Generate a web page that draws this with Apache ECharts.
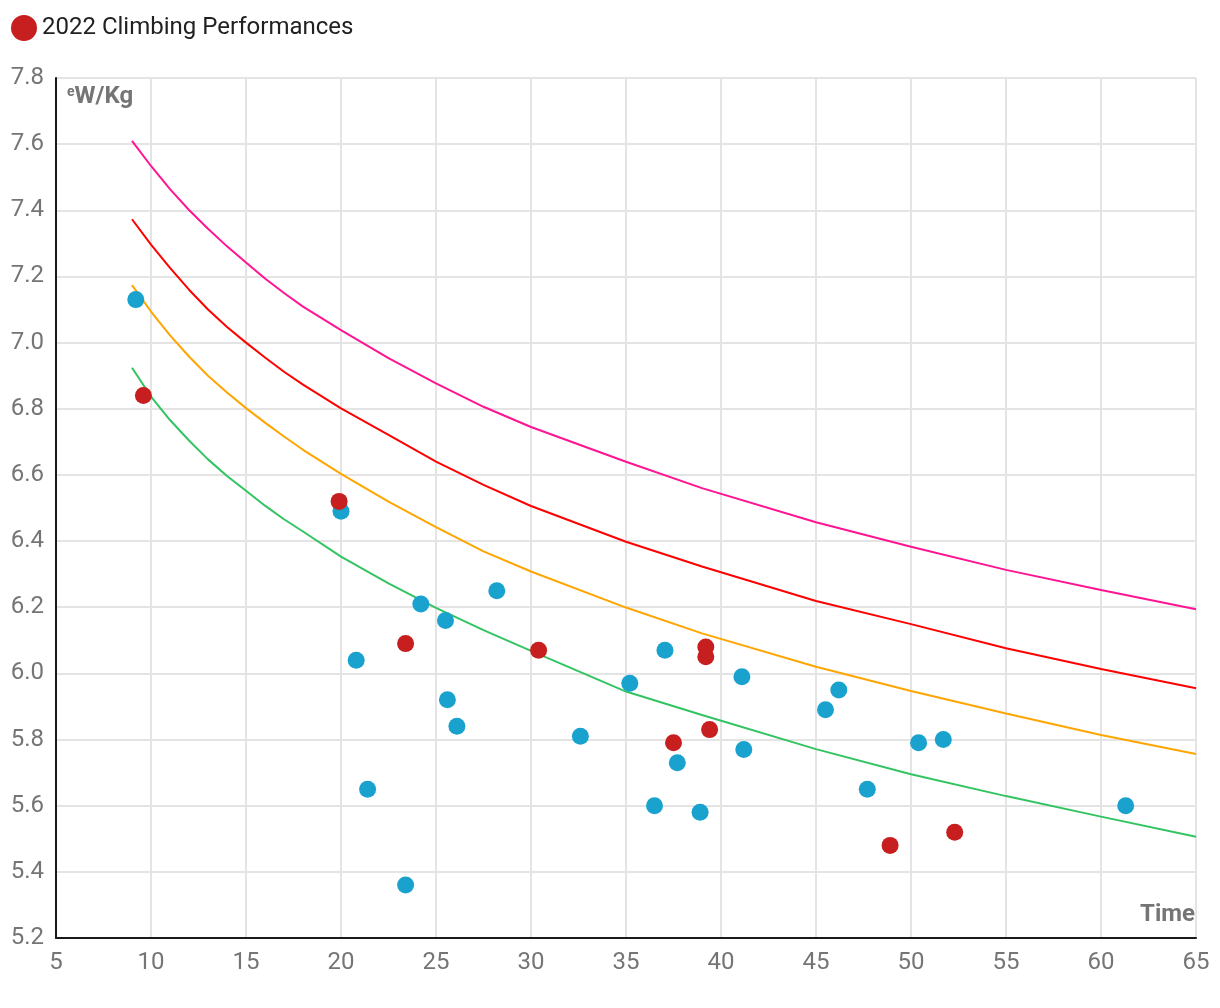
<!DOCTYPE html>
<html>
<head>
<meta charset="utf-8">
<script src="https://cdn.jsdelivr.net/npm/echarts@6/dist/echarts.min.js"></script>
<style>html,body{margin:0;padding:0;background:#fff;}#c{width:1220px;height:1008px;}</style>
</head>
<body>
<div id="c"></div>
<script>
// Tick configuration
var xTicks = { min: 5, max: 65, interval: 5 };
var yTicks = { min: 5.2, max: 7.8, interval: 0.2 };

// Reference curve sample times
var curveTimes  = [9,     10,    11,    12,    13,    14,    15,    16,    17,    18,    20,    22.5,  25,    27.5,  30,    35,    39,    45,    50,    55,    60,    65];
var pinkCurve   = [7.610, 7.534, 7.464, 7.401, 7.344, 7.291, 7.242, 7.194, 7.150, 7.109, 7.038, 6.953, 6.877, 6.806, 6.745, 6.640, 6.560, 6.457, 6.383, 6.313, 6.252, 6.194];
var redCurve    = [7.373, 7.296, 7.226, 7.160, 7.100, 7.047, 7.000, 6.955, 6.912, 6.873, 6.801, 6.721, 6.640, 6.570, 6.506, 6.398, 6.323, 6.219, 6.149, 6.076, 6.013, 5.955];
var orangeCurve = [7.174, 7.094, 7.022, 6.958, 6.900, 6.849, 6.802, 6.758, 6.716, 6.676, 6.603, 6.519, 6.442, 6.369, 6.308, 6.199, 6.121, 6.020, 5.947, 5.879, 5.814, 5.756];
var greenCurve  = [6.924, 6.837, 6.766, 6.704, 6.647, 6.597, 6.552, 6.507, 6.466, 6.429, 6.353, 6.272, 6.198, 6.131, 6.068, 5.945, 5.874, 5.771, 5.695, 5.629, 5.567, 5.506];

// Other performances (blue)
var blueTimes = [9.2, 20.0, 20.8, 21.4, 24.2, 25.5, 25.6, 26.1, 23.4, 28.2, 32.6, 35.2, 37.05, 36.5, 37.7, 38.9, 41.1, 41.2, 45.5, 46.2, 47.7, 50.4, 51.7, 61.3];
var blueWkg   = [7.13, 6.49, 6.04, 5.65, 6.21, 6.16, 5.92, 5.84, 5.36, 6.25, 5.81, 5.97, 6.07, 5.60, 5.73, 5.58, 5.99, 5.77, 5.89, 5.95, 5.65, 5.79, 5.80, 5.60];

// 2022 Climbing Performances (red)
var redTimes = [9.6, 19.9, 23.4, 30.4, 37.5, 39.2, 39.2, 39.4, 48.9, 52.3];
var redWkg   = [6.84, 6.52, 6.09, 6.07, 5.79, 6.08, 6.05, 5.83, 5.48, 5.52];

function zip(a, b) { return a.map(function (v, i) { return [v, b[i]]; }); }

function curve(name, data, color) {
  return {
    name: name, type: 'line', data: zip(curveTimes, data),
    showSymbol: false, symbol: 'none', smooth: false, silent: true,
    lineStyle: { color: color, width: 2 }, z: 2
  };
}

var chart = echarts.init(document.getElementById('c'), null, { renderer: 'canvas' });
chart.setOption({
  animation: false,
  backgroundColor: '#ffffff',
  textStyle: { fontFamily: 'Roboto' },
  legend: {
    data: ['2022 Climbing Performances'],
    left: 6, top: 10,
    itemWidth: 26, itemHeight: 26, icon: 'circle',
    textStyle: { fontSize: 24, color: '#212121', fontFamily: 'Roboto' }
  },
  grid: { left: 56, right: 24, top: 78, bottom: 70, containLabel: false },
  xAxis: {
    type: 'value', min: xTicks.min, max: xTicks.max, interval: xTicks.interval,
    name: 'Time', nameLocation: 'end', nameGap: -1,
    nameTextStyle: { fontSize: 24, fontWeight: 'bold', color: '#757575', align: 'right', verticalAlign: 'bottom', padding: [0, 0, 11, 0], fontFamily: 'Roboto' },
    axisLine: { show: true, lineStyle: { color: '#1a1a1a', width: 2 } },
    axisTick: { show: false },
    axisLabel: { fontSize: 24, color: '#757575', margin: 13, fontFamily: 'Roboto' },
    splitLine: { show: true, lineStyle: { color: '#e4e4e4', width: 2 } }
  },
  yAxis: {
    type: 'value', min: yTicks.min, max: yTicks.max, interval: yTicks.interval,
    name: '{e|e}{w|W/Kg}', nameLocation: 'end', nameGap: -7,
    nameTextStyle: {
      align: 'left', verticalAlign: 'top', padding: [0, 0, 0, 11],
      rich: {
        e: { fontSize: 14, fontWeight: 'bold', color: '#757575', verticalAlign: 'top', padding: [0, 0, 8, 0], fontFamily: 'Roboto' },
        w: { fontSize: 24, fontWeight: 'bold', color: '#757575', fontFamily: 'Roboto' }
      }
    },
    axisLine: { show: true, lineStyle: { color: '#1a1a1a', width: 2 } },
    axisTick: { show: false },
    axisLabel: { fontSize: 24, color: '#757575', margin: 12, fontFamily: 'Roboto',
      formatter: function (v) { return v.toFixed(1); } },
    splitLine: { show: true, lineStyle: { color: '#e4e4e4', width: 2 } }
  },
  series: [
    curve('pink', pinkCurve, '#ff1493'),
    curve('red', redCurve, '#ff0000'),
    curve('orange', orangeCurve, '#ffa500'),
    curve('green', greenCurve, '#33c462'),
    {
      name: 'Other Performances', type: 'scatter', data: zip(blueTimes, blueWkg),
      symbolSize: 17, itemStyle: { color: '#1aa2cf', opacity: 1 }, z: 3
    },
    {
      name: '2022 Climbing Performances', type: 'scatter', data: zip(redTimes, redWkg),
      symbolSize: 17, itemStyle: { color: '#c71f1f', opacity: 1 }, z: 4
    }
  ]
});
</script>
</body>
</html>
